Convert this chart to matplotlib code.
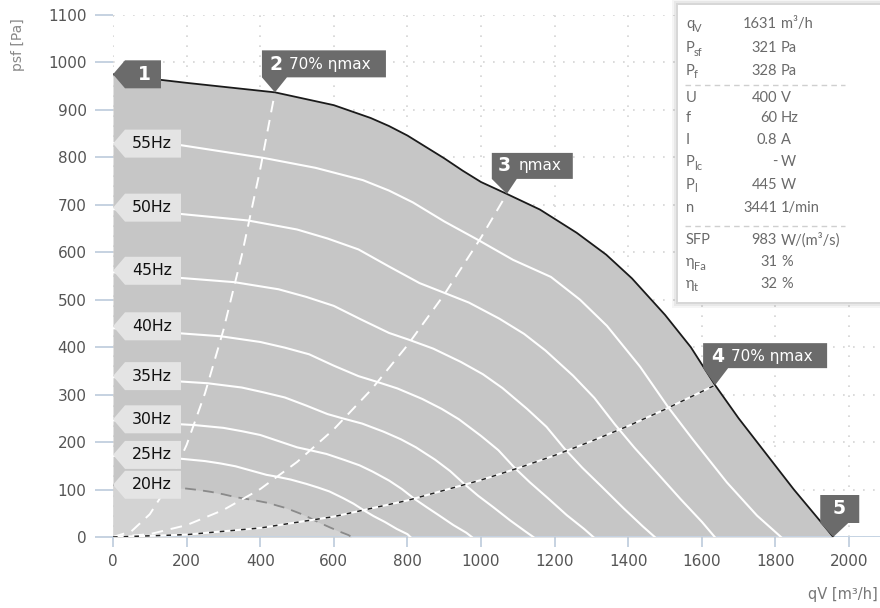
import numpy as np
import matplotlib
matplotlib.use('Agg')
import matplotlib.pyplot as plt
import matplotlib.transforms as mtransforms
from matplotlib.patches import Polygon, Rectangle
from matplotlib.lines import Line2D

# --- data (qV in m3/h, psf in Pa) ---
q60 = [0, 200, 440, 600, 700, 750, 800, 850, 900, 950, 1000, 1070, 1160, 1260, 1340, 1410, 1500,
       1570, 1636, 1700, 1770, 1850, 1920, 1957]
p60 = [975, 957, 937, 910, 883, 866, 846, 822, 798, 772, 748, 723, 690, 641, 595, 545, 468,
       400, 320, 250, 180, 100, 35, 0]

q55 = [0, 182, 408, 550, 679, 750, 815, 900, 992, 1087, 1190, 1269, 1342, 1432, 1508, 1576, 1668, 1750, 1815]
p55 = [830, 826, 799, 778, 752, 730, 705, 665, 626, 584, 548, 500, 445, 359, 274, 205, 115, 45, 0]

q50 = [0, 167, 367, 500, 583, 667, 750, 833, 892, 967, 1050, 1117, 1175, 1250, 1308, 1363, 1417, 1475, 1542, 1600, 1635]
p50 = [691, 682, 667, 648, 629, 606, 570, 535, 517, 494, 460, 428, 393, 340, 293, 238, 188, 138, 80, 32, 0]

q45 = [0, 150, 330, 450, 525, 600, 675, 750, 803, 870, 945, 1005, 1058, 1125, 1178, 1227, 1275, 1328, 1388, 1440, 1472]
p45 = [558, 548, 537, 522, 506, 487, 458, 430, 416, 397, 369, 343, 314, 270, 232, 186, 146, 106, 60, 22, 0]

q40 = [0, 133, 293, 400, 467, 533, 600, 667, 713, 773, 840, 893, 940, 1000, 1047, 1091, 1133, 1180, 1233, 1280, 1305]
p40 = [440, 432, 423, 411, 399, 385, 361, 339, 328, 313, 291, 270, 248, 213, 183, 146, 115, 83, 46, 17, 0]

q35 = [0, 117, 257, 350, 408, 467, 525, 583, 624, 677, 735, 782, 823, 875, 916, 954, 992, 1033, 1079, 1120, 1142]
p35 = [337, 331, 324, 315, 305, 294, 277, 259, 250, 239, 222, 206, 189, 163, 139, 112, 87, 63, 35, 12, 0]

q30 = [0, 100, 220, 300, 350, 400, 450, 500, 535, 580, 630, 670, 705, 750, 785, 818, 850, 885, 925, 960, 975]
p30 = [246, 241, 236, 230, 223, 215, 202, 189, 183, 175, 162, 151, 138, 119, 101, 81, 64, 46, 25, 9, 0]

q25 = [0, 83, 183, 250, 292, 333, 375, 417, 446, 483, 525, 558, 588, 625, 654, 682, 708, 738, 771, 800, 808]
p25 = [171, 168, 165, 160, 155, 149, 140, 131, 127, 121, 112, 104, 96, 82, 70, 56, 44, 32, 17, 6, 0]

q20 = [0, 67, 147, 200, 233, 267, 300, 333, 357, 387, 420, 447, 470, 500, 523, 545, 567, 590, 617, 640, 648]
p20 = [110, 107, 105, 102, 99, 95, 90, 84, 81, 77, 72, 66, 61, 52, 45, 36, 28, 20, 11, 4, 0]

# system curves (points 2, 3 and 4)
q_sys2 = [0, 50, 100, 150, 200, 250, 300, 350, 400, 440]
p_sys2 = [0, 12, 48, 109, 194, 303, 436, 594, 775, 937]
q_sys3 = [0, 100, 200, 300, 400, 500, 600, 700, 800, 900, 1000, 1070]
p_sys3 = [0, 6, 25, 57, 101, 158, 227, 309, 404, 511, 631, 723]
q_sys4 = [0, 200, 400, 600, 800, 1000, 1100, 1200, 1300, 1400, 1500, 1636]
p_sys4 = [0, 5, 19, 43, 77, 120, 145, 172, 202, 234, 269, 320]

freq_names = ['55Hz', '50Hz', '45Hz', '40Hz', '35Hz', '30Hz', '25Hz', '20Hz']
freq_label_p = [829, 694, 561, 444, 339, 248, 173, 110]

tag_q = [0, 440, 1070, 1636, 1957]
tag_p = [975, 937, 723, 320, 0]
tag_num = ['1', '2', '3', '4', '5']
tag_text = ['', '70% ηmax', 'ηmax', '70% ηmax', '']

info_names = ['q', 'P', 'P', 'U', 'f', 'I', 'P', 'P', 'n', 'SFP', 'η', 'η']
info_subs = ['V', 'sf', 'f', '', '', '', 'lc', 'l', '', '', 'Fa', 't']
info_nums = ['1631', '321', '328', '400', '60', '0.8', '-', '445', '3441', '983', '31', '32']
info_units = ['m³/h', 'Pa', 'Pa', 'V', 'Hz', 'A', 'W', 'W', '1/min', 'W/(m³/s)', '%', '%']

W, H = 880, 608
fig = plt.figure(figsize=(W / 100, H / 100), dpi=100)
ax = fig.add_axes([113 / W, 71 / H, 1 - 113 / W, (537 - 15) / H])
ax.set_xlim(0, 2084)
ax.set_ylim(0, 1100)

# grid + axes look
ax.set_xticks(np.arange(0, 2001, 200))
ax.set_yticks(np.arange(0, 1101, 100))
ax.grid(True, color='#d4d4d4', linestyle=(0, (1, 5)), linewidth=1.2)
ax.set_axisbelow(True)
for s in ax.spines.values():
    s.set_visible(False)
ax.tick_params(axis='x', length=7, width=1.2, color='#bccbdc', labelcolor='#555555',
               labelsize=11, pad=5)
ax.tick_params(axis='y', length=13, width=1.2, color='#bccbdc', labelcolor='#555555',
               labelsize=11, pad=6)

# working area
ax.fill_between(q60, p60, 0, color='#c6c6c6', lw=0, zorder=1)
ax.fill_between(q20, p20, 0, color='#d3d3d3', lw=0, zorder=1.1)
ax.axhline(0, color='#c5d3e3', lw=1.4, zorder=1.2)

# speed curves
for q, p in [(q55, p55), (q50, p50), (q45, p45), (q40, p40), (q35, p35), (q30, p30), (q25, p25)]:
    ax.plot(q, p, color='white', lw=1.5, zorder=2, solid_joinstyle='round')
ax.plot(q20, p20, color='#8a8a8a', lw=1.3, ls=(0, (6, 4)), zorder=2)

# system curves
ax.plot(q_sys2, p_sys2, color='white', lw=1.4, ls=(0, (6, 4)), zorder=3)
ax.plot(q_sys3, p_sys3, color='white', lw=1.4, ls=(0, (6, 4)), zorder=3)
ax.plot(q_sys4, p_sys4, color='white', lw=1.5, zorder=3)
ax.plot(q_sys4, p_sys4, color='#222222', lw=1.1, ls=(0, (3, 4)), zorder=3.1)

# max curve
ax.plot(q60, p60, color='#1a1a1a', lw=1.3, zorder=4, solid_joinstyle='round')


def px_trans(q, p):
    # offsets in pixels (y up) around a data point
    return fig.dpi_scale_trans + mtransforms.ScaledTranslation(q, p, ax.transData)


def shape(q, p, verts, color):
    tr = px_trans(q, p)
    ax.add_patch(Polygon(np.array(verts, float) / 100.0, closed=True, fc=color, ec='none',
                         transform=tr, clip_on=False, zorder=6))
    return tr


# frequency labels
for name, p in zip(freq_names, freq_label_p):
    tr = shape(0, p, [(0, 0), (12, 14), (68, 14), (68, -14), (12, -14)], '#e4e4e4')
    ax.text(0.39, 0.0, name, transform=tr, ha='center', va='center', fontsize=11.3,
            color='#111111', zorder=7, clip_on=False)

# numbered point tags
tag_shapes = [
    [(0, 0), (12, 14), (48, 14), (48, -14), (12, -14)],
    [(0, 0), (12, 15), (111, 15), (111, 42), (-13, 42), (-13, 15)],
    [(0, 0), (10, 15), (66, 15), (66, 41), (-15, 41), (-15, 15)],
    [(0, 0), (13, 17), (112, 17), (112, 42), (-12, 42), (-12, 17)],
    [(0, 0), (15, 14), (26, 14), (26, 42), (-13, 42), (-13, 14)],
]
num_pos = [(31, 0), (1, 28), (-3, 28), (3, 29), (6, 28)]
txt_pos = [(0, 0), (14, 28), (12, 28), (16, 29), (0, 0)]
for i in range(len(tag_num)):
    tr = shape(tag_q[i], tag_p[i], tag_shapes[i], '#6b6b6b')
    nx, ny = num_pos[i]
    ax.text(nx / 100, ny / 100, tag_num[i], transform=tr, ha='center', va='center',
            fontsize=13.5, fontweight='bold', color='white', zorder=7, clip_on=False)
    if tag_text[i]:
        tx, ty = txt_pos[i]
        ax.text(tx / 100, ty / 100, tag_text[i], transform=tr, ha='left', va='center',
                fontsize=11, color='white', zorder=7, clip_on=False)

# axis titles
fig.text(18 / W, 1 - 45 / H, 'psf [Pa]', rotation=90, ha='center', va='center',
         fontsize=10, color='#888888')
fig.text(878 / W, 1 - 595 / H, 'qV [m³/h]', ha='right', va='center',
         fontsize=10.5, color='#777777')

# info box with soft shadow
bx0, by0, bx1, by1 = 678, 5, 880, 302
for k, a in [(6, 0.04), (4, 0.05), (2, 0.07)]:
    fig.add_artist(Rectangle(((bx0 - k) / W, 1 - (by1 + k) / H), (bx1 - bx0 + 2 * k) / W,
                             (by1 - by0 + 2 * k) / H, transform=fig.transFigure,
                             fc='black', alpha=a, ec='none', zorder=9))
fig.add_artist(Rectangle((bx0 / W, 1 - by1 / H), (bx1 - bx0) / W, (by1 - by0) / H,
                         transform=fig.transFigure, fc='white', ec='none', zorder=10))
for yy in [85, 226]:
    fig.add_artist(Line2D([685 / W, 845 / W], [1 - yy / H, 1 - yy / H], transform=fig.transFigure,
                          color='#cfcfcf', lw=1, ls=(0, (4, 3)), zorder=11))

row_y = [24, 48, 71, 98, 118, 140, 162, 185, 208, 240, 262, 284]
info_font = ['Lato', 'DejaVu Sans']
for i in range(len(info_names)):
    y = 1 - row_y[i] / H
    fig.text(686 / W, y, info_names[i], ha='left', va='center', fontsize=10.5,
             color='#6a6a6a', family=info_font, zorder=12)
    if info_subs[i]:
        fig.text(694 / W, y - 4 / H, info_subs[i], ha='left', va='center', fontsize=8,
                 color='#6a6a6a', family=info_font, zorder=12)
    fig.text(777 / W, y, info_nums[i], ha='right', va='center', fontsize=10.5,
             color='#6a6a6a', family=info_font, zorder=12)
    fig.text(781 / W, y, info_units[i], ha='left', va='center', fontsize=10.5,
             color='#6a6a6a', family=info_font, zorder=12)

fig.savefig('out.png', dpi=100, facecolor='white')
